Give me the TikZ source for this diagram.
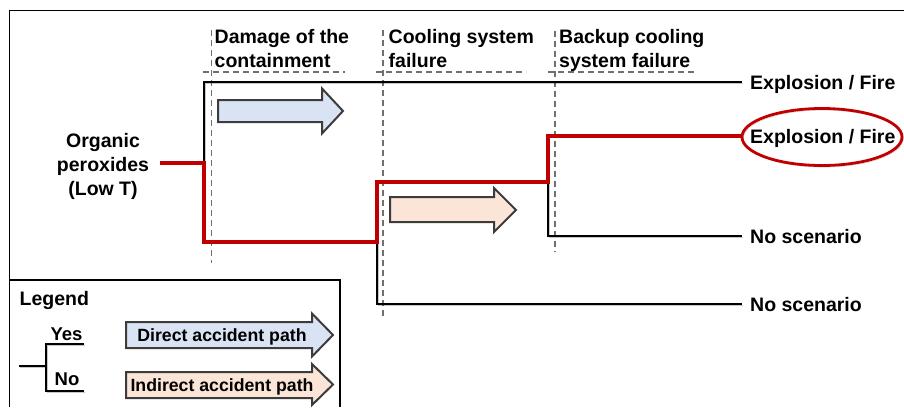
\documentclass[tikz,border=0pt]{standalone}
\usepackage{fontspec}
\setmainfont{Liberation Sans}
\definecolor{pathred}{HTML}{C00000}
\definecolor{dashgray}{HTML}{707070}
\definecolor{arrowblue}{HTML}{DAE3F3}
\definecolor{arroworange}{HTML}{FBE5D6}
\definecolor{arrowedge}{HTML}{3C3C3C}
\begin{document}
\begin{tikzpicture}[x=1pt,y=-1pt,
  bigtext/.style={font=\fontsize{19.5}{24}\selectfont\bfseries, inner sep=0pt},
  outcome/.style={bigtext, anchor=west, text height=15pt, text depth=0pt, inner xsep=8pt, inner ysep=0pt},
  titletext/.style={bigtext, anchor=north west, align=left},
  legtext/.style={font=\fontsize{17.7}{20}\selectfont\bfseries, inner sep=0pt, text height=13pt, text depth=0pt},
  yesno/.style={font=\fontsize{18.5}{22}\selectfont\bfseries, inner sep=0pt, anchor=base},
  shadowed/.style={preaction={draw=black, draw opacity=0.22, transform canvas={shift={(1.3pt,-1.6pt)}}}},
  treeline/.style={shadowed, draw=black, line width=2.7pt, line cap=butt, line join=miter},
  redpath/.style={shadowed, draw=pathred, line width=4pt, line join=miter},
  redring/.style={shadowed, draw=pathred, line width=2.8pt},
  dashline/.style={draw=dashgray, line width=1.4pt, dash pattern=on 6pt off 4pt},
  frameline/.style={draw=black, line width=1.2pt},
  bluearrow/.style={draw=arrowedge, fill=arrowblue, line width=2pt, line join=miter},
  orangearrow/.style={draw=arrowedge, fill=arroworange, line width=2pt, line join=miter}
]
\useasboundingbox (0,0) rectangle (904,407);

% frame and legend box
\draw[frameline] (9.5,280) -- (9.5,10.5) -- (904,10.5);
\draw[frameline] (9.5,407) -- (9.5,280) -- (340,280) -- (340,407);

% dashed stage separators
\draw[dashline] (211.5,30) -- (211.5,263);
\draw[dashline] (203,72) -- (345,72);
\draw[dashline] (383,30) -- (383,318);
\draw[dashline] (376,72) -- (526,72);
\draw[dashline] (555,31) -- (555,252);
\draw[dashline] (548,72) -- (697,72);

% stage titles
\node[titletext] (t1) at (214.5,29) {Damage of the\\containment};
\node[titletext] (t2) at (388.5,29) {Cooling system\\failure};
\node[titletext] (t3) at (559,29) {Backup cooling\\system failure};

% start node
\node[bigtext, align=center] (org) at (103,166) {Organic\\peroxides\\(Low T)};

% branch points
\coordinate (s) at (160,163);
\coordinate (b1) at (204,163);
\coordinate (b1y) at (204,82);
\coordinate (b1n) at (204,242);
\coordinate (b2) at (377,242);
\coordinate (b2y) at (377,182);
\coordinate (b2n) at (377,304);
\coordinate (b3) at (548,182);
\coordinate (b3y) at (548,136);
\coordinate (b3n) at (548,236);

% outcomes
\node[outcome] (o1) at (742,82) {Explosion / Fire};
\node[outcome] (o2) at (742,136) {Explosion / Fire};
\node[outcome] (o3) at (742,236) {No scenario};
\node[outcome] (o4) at (742,304) {No scenario};

% black branches
\draw[treeline] (b1) -- (b1y) -- (o1.west);
\draw[treeline] (b3) -- (b3n) -- (o3.west);
\draw[treeline] (b2) -- (b2n) -- (o4.west);

% red accident path
\draw[redpath] (s) -- (b1) -- (b1n) -- (b2) -- (b2y) -- (b3) -- (b3y) -- (o2.west);
\draw[redring] (822,137) ellipse [x radius=80, y radius=28.5];

% accident path arrows
\draw[bluearrow] (218,100) -- (322,100) -- (322,88.5) -- (343,111) -- (322,133.5) -- (322,122) -- (218,122) -- cycle;
\draw[orangearrow] (390,197) -- (494,197) -- (494,188) -- (516,210) -- (494,232) -- (494,222) -- (390,222) -- cycle;

% legend
\node[bigtext, anchor=base west] (leg) at (19.5,305) {Legend};
\coordinate (ls) at (19,366);
\coordinate (lb) at (46,366);
\coordinate (lby) at (46,344);
\coordinate (lbn) at (46,391);
\coordinate (lye) at (84,344);
\coordinate (lne) at (84,391);
\draw[treeline] (ls) -- (lb);
\draw[treeline] (lye) -- (lby) -- (lbn) -- (lne);
\node[yesno] (yes) at (66.5,340) {Yes};
\node[yesno] (no) at (67,385) {No};

\draw[bluearrow] (126,322) -- (312,322) -- (312,313.5) -- (333,335) -- (312,356.5) -- (312,348) -- (126,348) -- cycle;
\node[legtext] (dl) at (222,335) {Direct accident path};
\draw[orangearrow] (126,372) -- (312,372) -- (312,364) -- (333,384.5) -- (312,405) -- (312,398) -- (126,398) -- cycle;
\node[legtext] (il) at (222,385) {Indirect accident path};
\end{tikzpicture}
\end{document}
